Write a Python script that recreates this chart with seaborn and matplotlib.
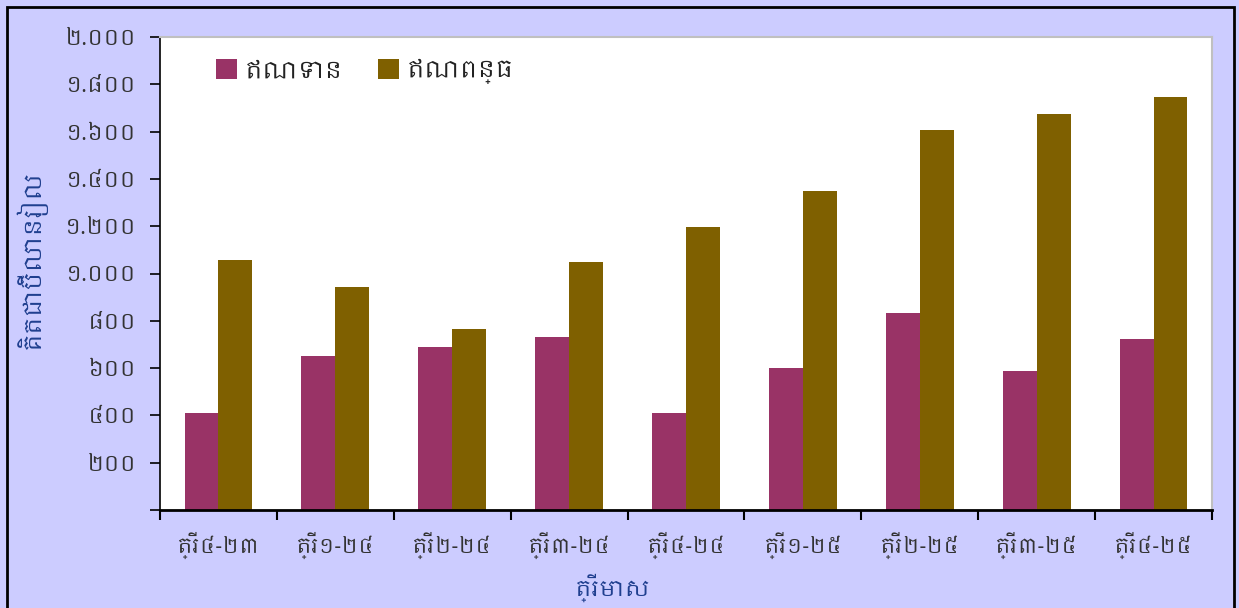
import pandas as pd
import matplotlib
matplotlib.use("Agg")
import matplotlib.pyplot as plt
import seaborn as sns
from matplotlib import font_manager, ft2font
from matplotlib.patches import Rectangle

# data (billion riel)
quarters = ["ត្រី៤-២៣", "ត្រី១-២៤", "ត្រី២-២៤", "ត្រី៣-២៤", "ត្រី៤-២៤",
            "ត្រី១-២៥", "ត្រី២-២៥", "ត្រី៣-២៥", "ត្រី៤-២៥"]
credit = [411, 650, 689, 730, 411, 599, 832, 588, 722]
debit = [1056, 943, 764, 1047, 1195, 1349, 1605, 1674, 1745]
series_names = ["ឥណទាន", "ឥណពន្ធ"]
ytick_values = [0, 200, 400, 600, 800, 1000, 1200, 1400, 1600, 1800, 2000]
ytick_labels = ["", "២០០", "៤០០", "៦០០", "៨០០", "១.០០០", "១.២០០",
                "១.៤០០", "១.៦០០", "១.៨០០", "២.០០០"]
colors = ["#993366", "#7F6000"]

df = pd.DataFrame({
    "quarter": quarters * 2,
    "value": credit + debit,
    "series": [series_names[0]] * len(quarters) + [series_names[1]] * len(quarters),
})


# look for an installed font that has Khmer glyphs, preferring a dedicated one
def find_khmer_font():
    found = []
    for f in font_manager.fontManager.ttflist:
        try:
            if 0x1780 in ft2font.FT2Font(f.fname).get_charmap():
                found.append(f.name)
        except Exception:
            pass
    for name in found:
        if "khmer" in name.lower():
            return name
    return found[0] if found else None


sns.set_style("white")
kh = find_khmer_font()
families = ([kh] if kh else []) + ["DejaVu Sans"]
plt.rcParams["font.family"] = families

fig = plt.figure(figsize=(12.39, 6.08), dpi=100, facecolor="#CCCCFF")
ax = fig.add_axes([160 / 1239, 1 - 510 / 608, 1052 / 1239, 473 / 608])
ax.set_facecolor("white")

sns.barplot(data=df, x="quarter", y="value", hue="series", palette=colors,
            width=0.58, saturation=1, edgecolor="none", ax=ax)

ax.set_xlim(-0.5, len(quarters) - 0.5)
ax.set_ylim(0, 2000)

# y axis
ax.set_yticks(ytick_values)
ax.set_yticklabels(ytick_labels)
ax.tick_params(axis="y", direction="out", length=7, width=1.2, color="black",
               labelsize=15.5, labelcolor="#333333", pad=10, left=True)

# x axis: ticks between groups, labels centred
ax.set_xticks([i - 0.5 for i in range(len(quarters) + 1)])
ax.set_xticklabels([])
ax.set_xticks(range(len(quarters)), minor=True)
ax.set_xticklabels(quarters, minor=True)
ax.tick_params(axis="x", which="major", direction="out", length=7, width=1.5,
               color="black", bottom=True)
ax.tick_params(axis="x", which="minor", length=0, labelsize=15,
               labelcolor="#333333", pad=16)

ax.set_xlabel("ត្រីមាស", fontsize=16, color="#1F3F8F")
ax.xaxis.set_label_coords(0.43, -0.135)
ax.set_ylabel("គិតជាប៊ីលានរៀល", fontsize=17, color="#1F3F8F")
ax.yaxis.set_label_coords(-0.108, 0.53)

for side in ["top", "right"]:
    ax.spines[side].set_color("#C0C0C0")
    ax.spines[side].set_linewidth(1.5)
ax.spines["left"].set_color("black")
ax.spines["left"].set_linewidth(1.2)
ax.spines["bottom"].set_color("black")
ax.spines["bottom"].set_linewidth(2)

leg = ax.legend(loc="upper left", bbox_to_anchor=(0.033, 1.0), ncol=2,
                frameon=False, fontsize=17, handlelength=0.9, handleheight=0.9,
                handletextpad=0.3, columnspacing=1.5, labelcolor="#222222")

# outer chart border
fig.patches.append(Rectangle((7 / 1239, -0.01), 1227 / 1239, 1.01 - 7 / 608,
                             transform=fig.transFigure, fill=False,
                             edgecolor="black", linewidth=2))

fig.savefig("out.png", dpi=100, facecolor=fig.get_facecolor())
